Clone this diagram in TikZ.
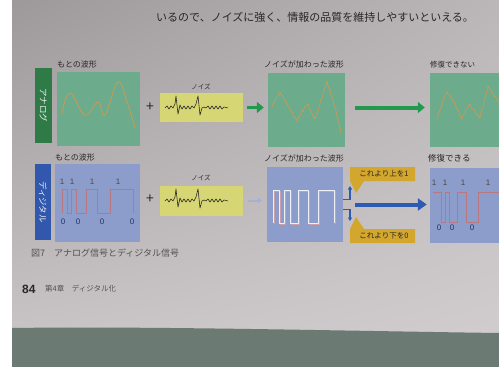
\documentclass[tikz,border=0pt]{standalone}
\usepackage{fontspec}
\setmainfont{Noto Sans CJK JP}
\newfontfamily\latinsans{Liberation Sans}
\usetikzlibrary{arrows.meta,shadings}
\definecolor{pTL}{HTML}{9D999A}
\definecolor{pTR}{HTML}{BBB7B8}
\definecolor{pBL}{HTML}{C9C4C6}
\definecolor{pBR}{HTML}{D1CCCE}
\definecolor{fabric}{HTML}{6C7A74}
\definecolor{agreen}{HTML}{2E7B48}
\definecolor{abox}{HTML}{6DAB8D}
\definecolor{wavec}{HTML}{C99A55}
\definecolor{noisey}{HTML}{D6D674}
\definecolor{garrowc}{HTML}{23994D}
\definecolor{dblue}{HTML}{3158AD}
\definecolor{dbox}{HTML}{8D9DCB}
\definecolor{sqwave}{HTML}{B97880}
\definecolor{callout}{HTML}{D3A62E}
\definecolor{barrowc}{HTML}{2C5BB3}
\definecolor{inkc}{HTML}{2A2626}
\tikzset{
  box/.style={rectangle, inner sep=0pt, draw=none},
  lbl/.style={inner sep=0pt, text=inkc, font=\fontsize{8}{9}\selectfont},
  bit/.style={inner sep=0pt, text=inkc!85, font=\latinsans\fontsize{8}{9}\selectfont},
  vlabel/.style={inner sep=0pt, text=white!90!gray, rotate=-90, font=\fontsize{8.5}{9}\selectfont},
  fatg/.style={draw=garrowc, line width=4pt, -{Triangle[length=7pt,width=11pt]}},
  fatb/.style={draw=barrowc, line width=4pt, -{Triangle[length=9pt,width=12pt]}},
  thinb/.style={draw=barrowc, line width=1.1pt, -{Triangle[length=3.5pt,width=4pt]}},
  sq/.style={draw=sqwave, line width=1pt, line join=miter},
  noisepic/.pic={
    \draw[black!85, line width=0.6pt, line join=round] plot coordinates {
      (165,108) (167,106) (169,109) (171,106) (173,108) (175,104) (176,96) (178,114)
      (180,105) (182,109) (184,106) (186,109) (188,106) (190,109) (192,106) (194,108)
      (196,104) (198,96) (200,115) (202,108) (204,107) (206,108) (208,106) (210,109)
      (212,106) (214,109) (216,106) (218,109) (220,106) (222,109) (224,107) (228,108)};
  },
  dnoisypic/.pic={
    \draw[line width=0.7pt, line join=round] (273,223)--(273,190)--(279,190)--(279,223)--(284,223)--(284,190)--(290,190)--(290,223)--(298,223)--(298,190)--(308,190)--(308,223)--(318,223)--(318,190)--(334,190)--(334,223);
  }
}
\begin{document}
\begin{tikzpicture}[x=1pt,y=-1pt]
\useasboundingbox (0,0) rectangle (499,367);
% page and surroundings
\shade[upper left=pTL, upper right=pTR, lower left=pBL, lower right=pBR] (12,0) rectangle (499,340);
\fill[fabric] (12,328) .. controls (150,326) and (350,331) .. (499,333) -- (499,367) -- (12,367) -- cycle;
\fill[white] (0,0) rectangle (12,367);

% top text
\node[lbl, font=\fontsize{11}{12}\selectfont, anchor=west] (toptext) at (156,17) {いるので、ノイズに強く、情報の品質を維持しやすいといえる。};

% ---------- analog row ----------
\node[box, fill=agreen, minimum width=17, minimum height=75] (alabel) at (43.5,105.5) {};
\node[vlabel] (alabeltext) at (alabel.center) {アナログ};
\node[box, fill=abox, minimum width=83, minimum height=74] (aorig) at (98.5,109) {};
\node[lbl, anchor=south west] (aorigt) at (57,68) {もとの波形};
\draw[wavec, line width=0.8pt] plot[smooth, tension=0.7] coordinates {(62,114) (70,93) (85,115) (98,102) (105,115) (118,82) (128,105) (135,128)};
\node[lbl, font=\fontsize{14}{14}\selectfont] (aplus) at (150,107) {+};
\node[box, fill=noisey, minimum width=83, minimum height=29] (anoise) at (201.5,107.5) {};
\node[lbl, font=\fontsize{6.5}{7}\selectfont] (anoiset) at (201,87) {ノイズ};
\pic at (0,0) {noisepic};
\node[box, fill=abox, minimum width=77, minimum height=74] (anoisy) at (306.5,110) {};
\node[lbl, anchor=south west] (anoisyt) at (264,68) {ノイズが加わった波形};
\draw[wavec, line width=0.7pt, line join=round] plot coordinates {(272,107) (273,104) (275,101) (276,98) (278,96) (280,92) (281,95) (283,96) (284,100) (286,101) (288,106) (289,107) (291,112) (292,112) (294,117) (296,118) (297,121) (299,117) (300,116) (302,110) (303,112) (305,106) (307,106) (308,104) (310,110) (311,111) (313,116) (315,119) (316,116) (318,111) (319,107) (321,99) (322,98) (324,90) (325,88) (327,81) (328,86) (330,90) (331,95) (333,99) (334,105) (336,110) (337,117) (338,119) (340,128) (341,133)};
\node[box, fill=abox, minimum width=80, minimum height=74] (aout) at (470,110) {};
\node[lbl, anchor=south west, font=\fontsize{7.5}{8}\selectfont] (aoutt) at (430,68) {修復できない};
\draw[wavec, line width=0.7pt, line join=round] plot coordinates {(437,119) (439,112) (441,108) (443,101) (445,96) (447,91) (448,95) (450,95) (452,100) (454,101) (456,107) (458,110) (460,116) (462,119) (463,115) (465,113) (466,109) (468,107) (470,104) (472,109) (474,109) (476,114) (478,115) (480,118) (481,112) (483,107) (484,101) (486,95) (488,86) (490,90) (492,91) (494,96) (496,97) (498,102) (500,104)};
\draw[fatg, line width=3.5pt, shorten <=4pt, shorten >=4pt] (anoise.east) -- (anoisy.west |- anoise.east);
\draw[fatg, shorten <=10pt, shorten >=5pt] (anoisy.east |- anoise.east) -- (aout.west |- anoise.east);

% ---------- digital row ----------
\node[box, fill=dblue, minimum width=16, minimum height=76] (dlabel) at (43,202) {};
\node[vlabel] (dlabeltext) at (dlabel.center) {ディジタル};
\node[box, fill=dbox, minimum width=85, minimum height=78] (dorig) at (97.5,203) {};
\node[lbl, anchor=south west] (dorigt) at (55,161) {もとの波形};
\draw[sq] (62,213)--(62,189)--(67,189)--(67,213)--(71,213)--(71,189)--(76,189)--(76,213)--(86,213)--(86,189)--(97,189)--(97,213)--(110,213)--(110,189)--(133,189)--(133,213);
\foreach \x/\n in {62/a,72/b,92/c,118/d} \node[bit] (done\n) at (\x,182) {1};
\foreach \x/\n in {63/a,78/b,102/c,132/d} \node[bit, text=dblue!60!black] (dzero\n) at (\x,222) {0};
\node[lbl, font=\fontsize{14}{14}\selectfont] (dplus) at (150,199) {+};
\node[box, fill=noisey, minimum width=83, minimum height=30] (dnoise) at (201.5,200.5) {};
\node[lbl, font=\fontsize{6.5}{7}\selectfont] (dnoiset) at (201,178) {ノイズ};
\pic at (0,93) {noisepic};
\node[box, fill=dbox, minimum width=76, minimum height=75] (dnoisy) at (305,204.5) {};
\node[lbl, anchor=south west] (dnoisyt) at (264,162) {ノイズが加わった波形};
\pic[draw=sqwave!70!white] at (1.2,1) {dnoisypic};
\pic[draw=white!85!dbox] at (0,0) {dnoisypic};
\node[box, fill=dbox, minimum width=80, minimum height=75] (dout) at (470,205.5) {};
\node[lbl, anchor=south west, font=\fontsize{8.5}{9}\selectfont] (doutt) at (428,162) {修復できる};
\draw[sq] (433,192)--(441,192)--(441,222)--(445,222)--(445,192)--(449,192)--(449,222)--(457,222)--(457,192)--(466,192)--(466,222)--(478,222)--(478,192)--(499,192);
\foreach \x/\n in {434/a,445/b,463/c,488/d} \node[bit] (oone\n) at (\x,183) {1};
\foreach \x/\n in {439/a,452/b,472/c} \node[bit, text=dblue!60!black] (ozero\n) at (\x,228) {0};
% callouts
\fill[callout] (350,167) -- (415,167) -- (415,181) -- (364,181) -- (356,193) -- (350,181) -- cycle;
\fill[callout] (350,243) -- (415,243) -- (415,229) -- (364,229) -- (356,217) -- (350,229) -- cycle;
\node[lbl, font=\fontsize{7.5}{8}\selectfont] (upper) at (384,174) {これより上を1};
\node[lbl, font=\fontsize{7.5}{8}\selectfont] (lower) at (384,236) {これより下を0};
% arrows
\draw[draw=dbox!80!white, line width=2pt, -{Triangle[length=4pt,width=6pt]}, shorten <=5pt, shorten >=5pt] (dnoise.east) -- (dnoisy.west |- dnoise.east);
\coordinate (bup) at (350,186);
\coordinate (bdown) at (350,221);
\draw[thinb] ([yshift=5pt]dnoisy.east) -| (bup);
\draw[thinb] ([yshift=-5pt]dnoisy.east) -| (bdown);
\draw[fatb, shorten <=12pt, shorten >=3pt] (dnoisy.east) -- (dout.west |- dnoisy.east);

% caption and footer
\node[lbl, anchor=west, font=\fontsize{9}{10}\selectfont, text=inkc!80] (caption) at (31,253) {図7　アナログ信号とディジタル信号};
\node[lbl, anchor=west, font=\latinsans\bfseries\fontsize{12}{12}\selectfont] (pnum) at (22,289) {84};
\node[lbl, anchor=west, font=\fontsize{7.5}{8}\selectfont, text=inkc!80] (chap) at (45,289) {第4章　ディジタル化};
\end{tikzpicture}
\end{document}
